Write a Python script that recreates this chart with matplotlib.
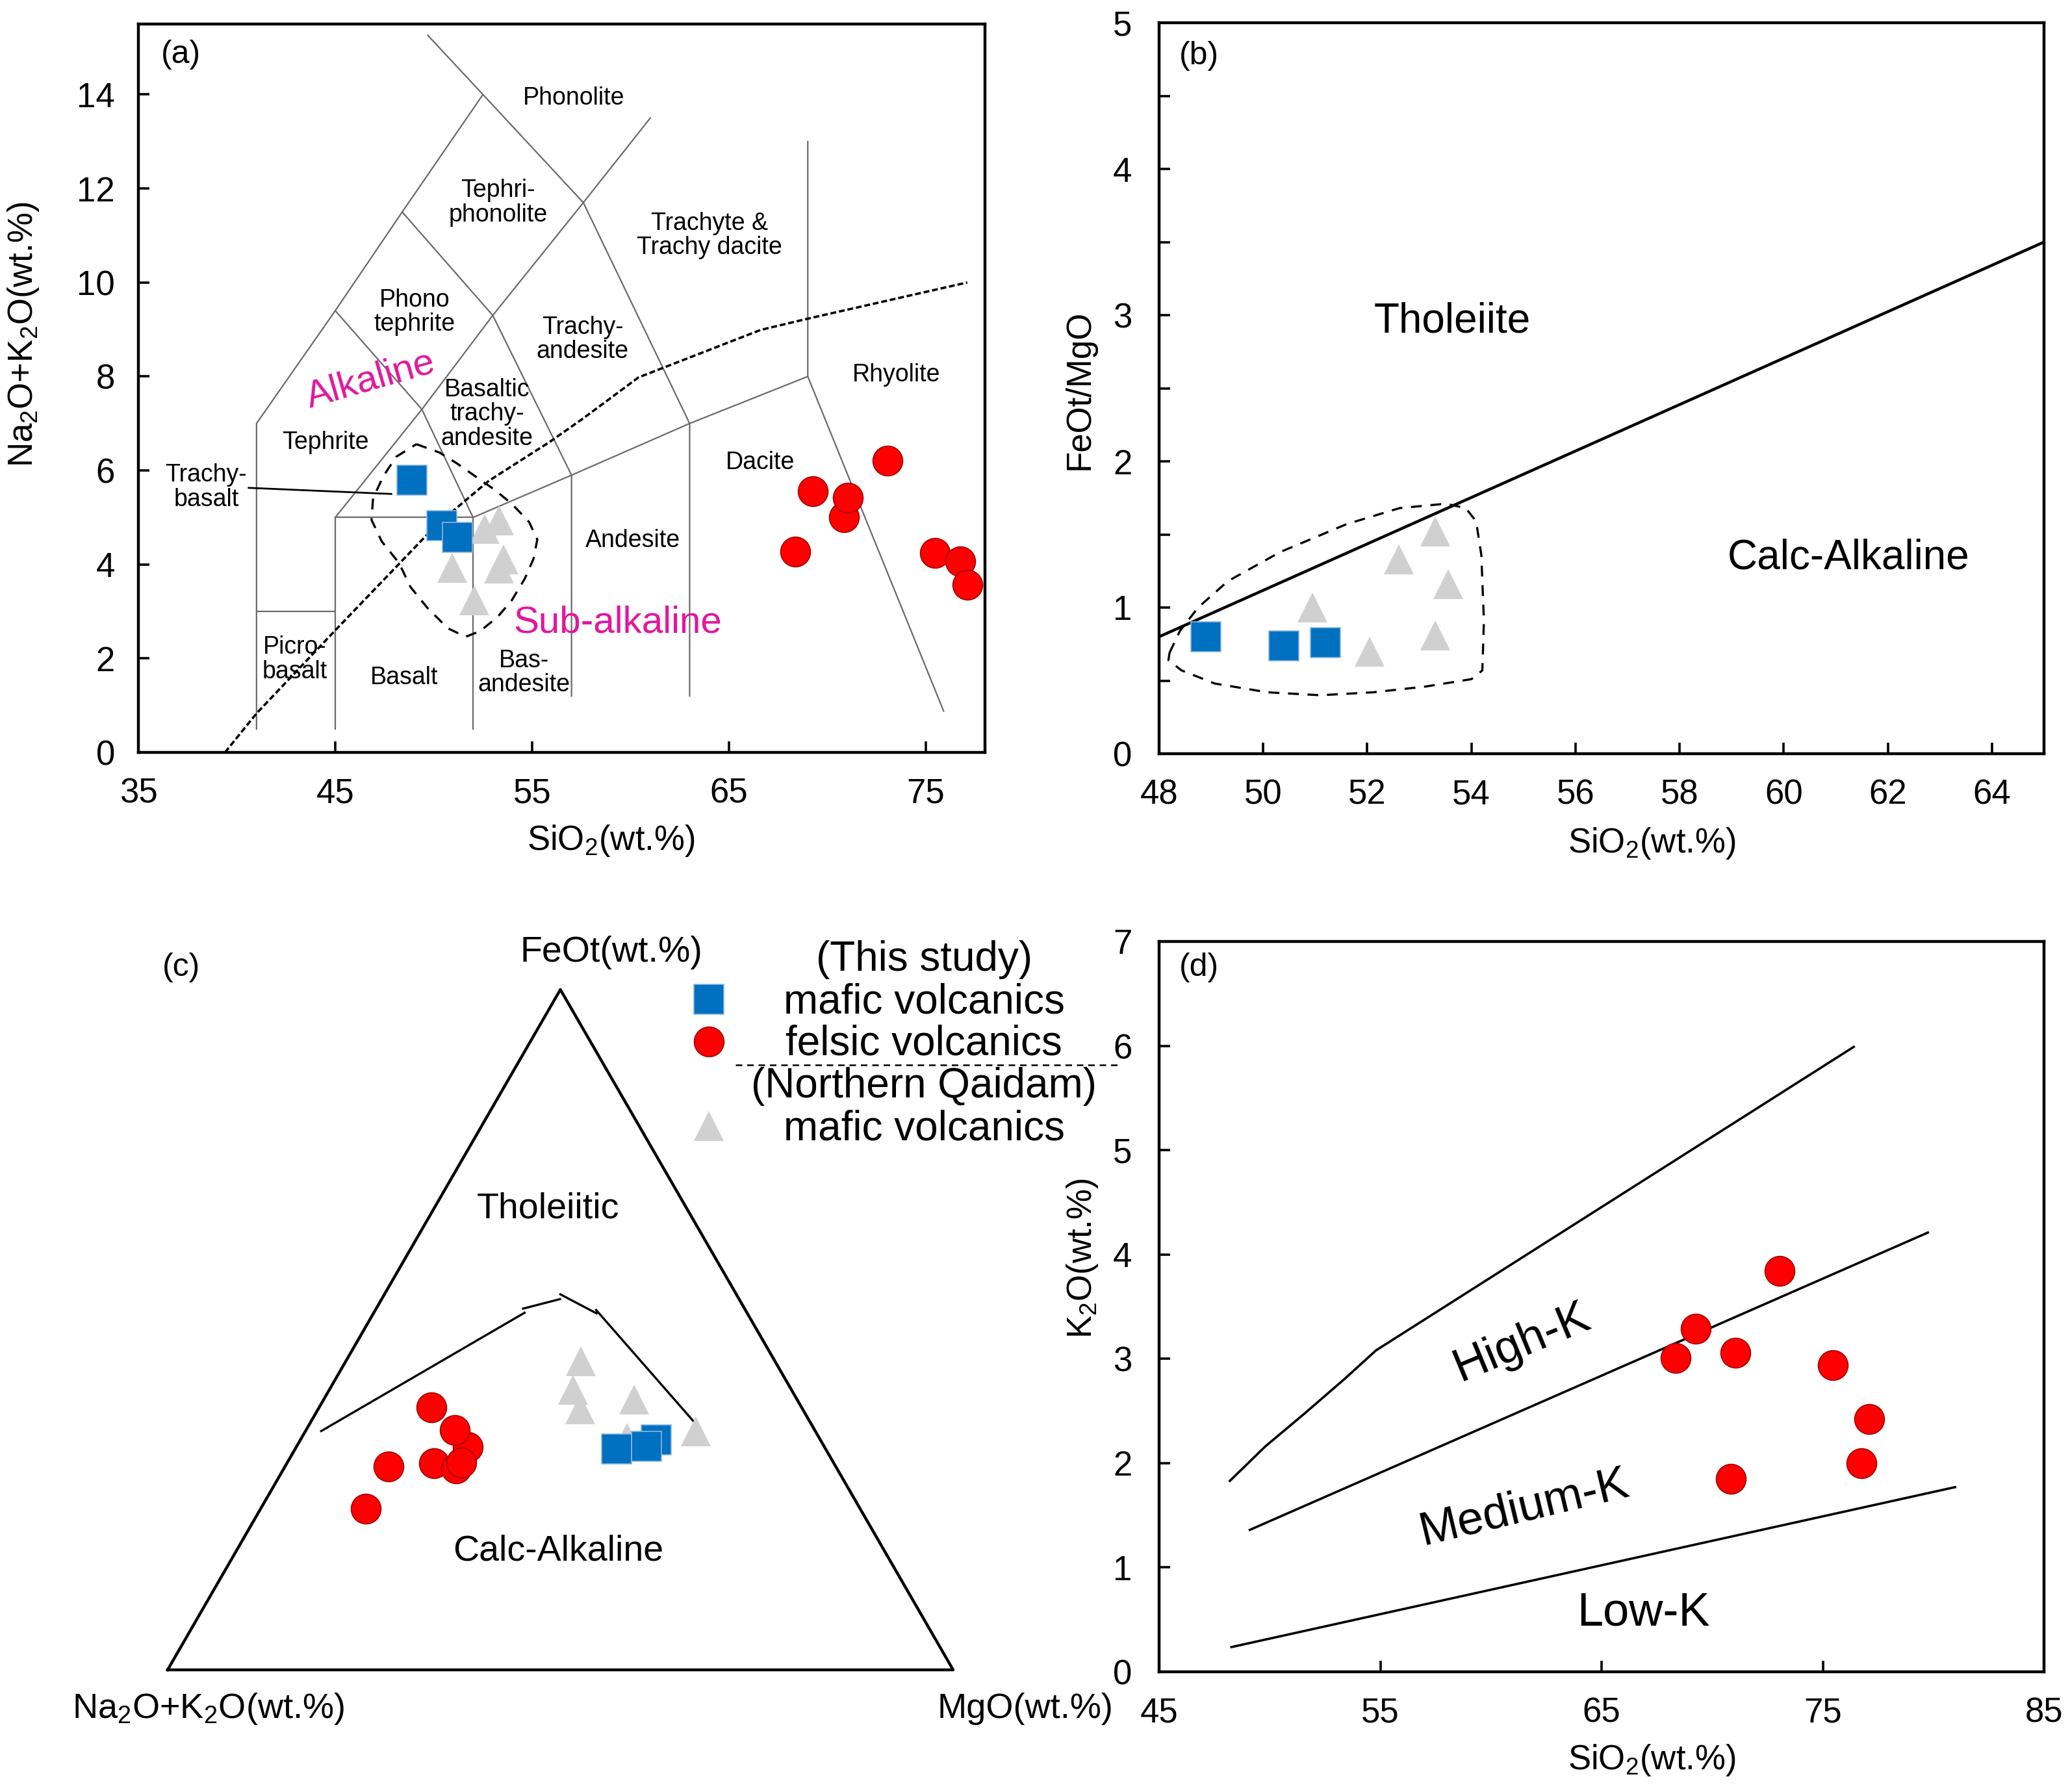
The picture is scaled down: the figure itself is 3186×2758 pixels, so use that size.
import numpy as np
import matplotlib
matplotlib.use("Agg")
from matplotlib import pyplot as plt
from matplotlib.ticker import MultipleLocator

plt.rcParams["font.family"] = ["Liberation Sans", "DejaVu Sans"]
plt.rcParams["mathtext.fontset"] = "custom"
plt.rcParams["mathtext.rm"] = "Liberation Sans"
plt.rcParams["mathtext.it"] = "Liberation Sans:italic"
plt.rcParams["mathtext.bf"] = "Liberation Sans:bold"

out_filename = "out.png"

# ---------------- data ----------------
# this study, mafic volcanics (blue squares)
maf_sio2 = [48.9, 50.4, 51.2]
maf_alk = [5.79, 4.83, 4.58]
maf_feo_mgo = [0.80, 0.74, 0.76]
maf_afm_a = [26.6, 22.6, 20.9]
maf_afm_f = [32.5, 32.9, 33.8]
maf_afm_m = [40.9, 44.5, 45.3]

# this study, felsic volcanics (red circles)
fel_sio2 = [68.35, 69.25, 70.85, 71.05, 73.05, 75.45, 76.75, 77.1]
fel_alk = [4.27, 5.56, 5.0, 5.42, 6.21, 4.24, 4.07, 3.57]
fel_k2o = [3.01, 3.29, 1.85, 3.06, 3.84, 2.94, 2.0, 2.42]
fel_afm_a = [47.1, 45.4, 45.8, 50.9, 48.5, 47.4, 56.9, 62.9]
fel_afm_f = [38.6, 32.8, 35.2, 30.4, 29.6, 30.5, 29.9, 23.7]
fel_afm_m = [14.3, 21.8, 19.0, 18.7, 21.9, 22.1, 13.2, 13.4]

# Northern Qaidam mafic volcanics (grey triangles)
nq_sio2 = [50.95, 52.05, 52.6, 53.3, 53.3, 53.55]
nq_alk = [3.93, 3.24, 4.76, 4.94, 3.91, 4.10]
nq_feo_mgo = [1.00, 0.70, 1.33, 1.52, 0.81, 1.16]
nq_afm_a = [24.7, 27.8, 28.3, 20.8, 24.5, 15.2]
nq_afm_f = [45.4, 41.2, 38.3, 39.7, 34.1, 35.1]
nq_afm_m = [29.9, 31.0, 33.4, 39.5, 41.4, 49.7]

# TAS field boundaries
tas_lines = [
    [(41, 0.5), (41, 7), (45, 9.4), (48.4, 11.5), (52.5, 14), (49.7, 15.26)],
    [(41, 3), (45, 3)],
    [(45, 0.5), (45, 5), (52, 5), (52, 0.5)],
    [(45, 5), (49.4, 7.3), (53, 9.3), (57.6, 11.7), (61, 13.5)],
    [(45, 9.4), (49.4, 7.3), (52, 5), (57, 5.9), (63, 7), (69, 8)],
    [(48.4, 11.5), (53, 9.3), (57, 5.9), (57, 1.2)],
    [(52.5, 14), (57.6, 11.7), (63, 7), (63, 1.2)],
    [(69, 13), (69, 8), (75.9, 0.88)],
]
trachy_leader = [(40.6, 5.63), (47.85, 5.5)]
alk_x = [39.4, 41.0, 45.05, 49.7, 50.9, 52.8, 55.9, 57.6, 60.4, 66.6, 69.0, 77.1]
alk_y = [0.0, 0.83, 2.62, 4.65, 5.11, 5.78, 6.61, 7.11, 7.98, 8.99, 9.23, 10.0]
env_a_x = [49.12, 50.30, 51.18, 52.2, 53.09, 53.97, 54.85, 55.26, 55.07, 54.63,
           53.97, 53.24, 52.35, 51.62, 50.73, 49.71, 48.82, 48.24, 47.36, 46.84,
           46.92, 47.43, 48.09, 49.12]
env_a_y = [6.56, 6.38, 6.15, 5.85, 5.59, 5.29, 4.90, 4.53, 4.12, 3.70,
           3.24, 2.88, 2.58, 2.46, 2.64, 3.06, 3.52, 4.03, 4.49, 4.95,
           5.41, 5.87, 6.29, 6.56]

tas_labels = [
    ("Phonolite", 57.1, 13.92),
    ("Tephri-\nphonolite", 53.26, 11.7),
    ("Trachyte &\nTrachy dacite", 64.0, 11.0),
    ("Phono\ntephrite", 49.03, 9.37),
    ("Trachy-\nandesite", 57.56, 8.79),
    ("Basaltic\ntrachy-\nandesite", 52.7, 7.2),
    ("Rhyolite", 73.5, 8.04),
    ("Tephrite", 44.5, 6.6),
    ("Dacite", 66.6, 6.16),
    ("Trachy-\nbasalt", 38.44, 5.64),
    ("Andesite", 60.1, 4.51),
    ("Picro-\nbasalt", 42.93, 1.98),
    ("Basalt", 48.5, 1.59),
    ("Bas-\nandesite", 54.57, 1.69),
]

# FeOt/MgO vs SiO2
tc_x = [48, 65]
tc_y = [0.8, 3.5]
env_b_x = [48.2, 48.4, 48.75, 49.32, 50.33, 51.6, 52.62, 53.51, 53.89, 54.09, 54.19,
           54.24, 54.21, 54.0, 53.13, 52.11, 51.1, 50.08, 49.07, 48.43, 48.18, 48.2]
env_b_y = [0.69, 0.84, 1.0, 1.18, 1.38, 1.57, 1.68, 1.71, 1.68, 1.59, 1.36,
           0.91, 0.57, 0.51, 0.46, 0.42, 0.40, 0.42, 0.48, 0.57, 0.64, 0.69]

# AFM boundary (A, F, M) segments
afm_bound = [
    [(62.9, 35.1, 2.0), (28.3, 52.5, 19.2)],
    [(28.2, 53.1, 18.7), (22.8, 54.5, 22.7)],
    [(22.4, 55.2, 22.4), (19.2, 52.4, 28.4)],
    [(19.0, 52.9, 28.1), (14.8, 36.6, 48.6)],
]

# K2O vs SiO2 series boundaries
hk_x = [48.2, 49.8, 51.6, 53.4, 54.8, 76.4]
hk_y = [1.83, 2.16, 2.48, 2.81, 3.08, 5.99]
mk_x = [49.1, 79.75]
mk_y = [1.36, 4.21]
lk_x = [48.27, 80.98]
lk_y = [0.237, 1.77]

# ---------------- styles ----------------
SQ = dict(marker="s", linestyle="", markersize=16.5, markerfacecolor="#0070C0",
          markeredgecolor="#8DB8E0", markeredgewidth=0.6)
CI = dict(marker="o", linestyle="", markersize=16.5, markerfacecolor="#FF0000",
          markeredgecolor="#A00000", markeredgewidth=0.6)
TR = dict(marker="^", linestyle="", markersize=16.5, markerfacecolor="#D0D0D0",
          markeredgewidth=0)
MAGENTA = "#E0189C"
W, H = 3186, 2758


def px_axes(fig, left, top, right, bottom):
    return fig.add_axes([left / W, 1 - bottom / H, (right - left) / W, (bottom - top) / H])


def style_axes(ax, xpad=15, ypad=15):
    for sp in ax.spines.values():
        sp.set_linewidth(1.6)
    ax.tick_params(which="both", direction="in", width=1.3, labelsize=19)
    ax.tick_params(which="major", length=6)
    ax.tick_params(which="minor", length=6)
    ax.tick_params(axis="x", pad=xpad)
    ax.tick_params(axis="y", pad=ypad)


def ternary(a, f, m):
    a, f, m = np.asarray(a, float), np.asarray(f, float), np.asarray(m, float)
    s = a + f + m
    f, m = f / s, m / s
    return m + f / 2, f * np.sqrt(3) / 2


def main():
    fig = plt.figure(figsize=(W / 200, H / 200), dpi=200)

    # ---------------- (a) TAS ----------------
    ax = px_axes(fig, 213, 37, 1516, 1158)
    for line in tas_lines:
        xs, ys = zip(*line)
        ax.plot(xs, ys, color="#6a6a6a", linewidth=0.8, zorder=1)
    xs, ys = zip(*trachy_leader)
    ax.plot(xs, ys, color="k", linewidth=1.0, zorder=1)
    ax.plot(alk_x, alk_y, color="k", linewidth=1.3, linestyle=(0, (2.5, 1.2)), zorder=1)
    ax.plot(env_a_x, env_a_y, color="k", linewidth=1.2, linestyle=(0, (5, 4)), zorder=1)
    for label, x, y in tas_labels:
        ax.text(x, y, label, fontsize=13.5, ha="center", va="center", linespacing=1.05)
    ax.text(46.8, 7.92, "Alkaline", color=MAGENTA, fontsize=21, rotation=16,
            ha="center", va="center")
    ax.text(59.36, 2.76, "Sub-alkaline", color=MAGENTA, fontsize=21,
            ha="center", va="center")
    ax.plot(nq_sio2, nq_alk, zorder=3, **TR)
    ax.plot(maf_sio2, maf_alk, zorder=4, **SQ)
    ax.plot(fel_sio2, fel_alk, zorder=5, **CI)
    ax.set_xlim(35, 78)
    ax.set_ylim(0, 15.5)
    ax.set_xticks([35, 45, 55, 65, 75])
    ax.set_yticks(range(0, 15, 2))
    style_axes(ax, xpad=14, ypad=13)
    ax.text(0.05, 0.958, "(a)", transform=ax.transAxes, fontsize=18, ha="center", va="center")
    ax.text(0.558, -0.121, "SiO$_2$(wt.%)", transform=ax.transAxes, fontsize=19,
            ha="center", va="center")
    ax.text(-0.136, 0.574, "Na$_2$O+K$_2$O(wt.%)", transform=ax.transAxes, fontsize=19,
            ha="center", va="center", rotation=90)

    # ---------------- (b) FeOt/MgO ----------------
    ax = px_axes(fig, 1784, 35, 3146, 1160)
    ax.plot(tc_x, tc_y, color="k", linewidth=1.6, zorder=1)
    ax.plot(env_b_x, env_b_y, color="k", linewidth=1.2, linestyle=(0, (5, 4)), zorder=1)
    ax.plot(nq_sio2, nq_feo_mgo, zorder=3, **TR)
    ax.plot(maf_sio2, maf_feo_mgo, zorder=4, **SQ)
    ax.text(53.63, 2.96, "Tholeiite", fontsize=23, ha="center", va="center")
    ax.text(61.25, 1.34, "Calc-Alkaline", fontsize=23, ha="center", va="center")
    ax.set_xlim(48, 65)
    ax.set_ylim(0, 5)
    ax.set_xticks(range(48, 65, 2))
    ax.set_yticks(range(0, 6))
    ax.yaxis.set_minor_locator(MultipleLocator(0.5))
    style_axes(ax, xpad=14, ypad=15)
    ax.text(0.045, 0.955, "(b)", transform=ax.transAxes, fontsize=18, ha="center", va="center")
    ax.text(0.557, -0.123, "SiO$_2$(wt.%)", transform=ax.transAxes, fontsize=19,
            ha="center", va="center")
    ax.text(-0.0896, 0.498, "FeOt/MgO", transform=ax.transAxes, fontsize=19,
            ha="center", va="center", rotation=90)

    # ---------------- (c) AFM ----------------
    ax = px_axes(fig, 258, 1523, 1467, 2570)
    h = np.sqrt(3) / 2
    ax.set_xlim(0, 1)
    ax.set_ylim(0, h)
    ax.axis("off")
    ax.plot([0, 1, 0.5, 0], [0, 0, h, 0], color="k", linewidth=1.6, clip_on=False)
    for seg in afm_bound:
        a, f, m = zip(*seg)
        x, y = ternary(a, f, m)
        ax.plot(x, y, color="k", linewidth=1.2)
    x, y = ternary(nq_afm_a, nq_afm_f, nq_afm_m)
    ax.plot(x, y, zorder=3, clip_on=False, **TR)
    x, y = ternary(maf_afm_a, maf_afm_f, maf_afm_m)
    ax.plot(x[::-1], y[::-1], zorder=4, clip_on=False, **SQ)
    x, y = ternary(fel_afm_a, fel_afm_f, fel_afm_m)
    ax.plot(x, y, zorder=5, clip_on=False, **CI)
    ax.text(0.484, 0.587, "Tholeiitic", fontsize=20, ha="center", va="center")
    ax.text(0.4975, 0.151, "Calc-Alkaline", fontsize=20, ha="center", va="center")
    ax.text(0.565, 0.913, "FeOt(wt.%)", fontsize=20, ha="center", va="center")
    ax.text(0.052, -0.050, "Na$_2$O+K$_2$O(wt.%)", fontsize=19.5, ha="center", va="center")
    ax.text(1.092, -0.050, "MgO(wt.%)", fontsize=19.5, ha="center", va="center")
    ax.text(0.017, 0.894, "(c)", fontsize=18, ha="center", va="center")

    # legend
    ax.plot([0.689], [0.854], clip_on=False, **SQ)
    ax.plot([0.689], [0.800], clip_on=False, **CI)
    ax.plot([0.689], [0.692], clip_on=False, **TR)
    ax.plot([0.723, 1.215], [0.770, 0.770], color="k", linewidth=0.9,
            linestyle=(0, (4, 3)), clip_on=False)
    for label, y in [("(This study)", 0.904), ("mafic volcanics", 0.850),
                     ("felsic volcanics", 0.797), ("(Northern Qaidam)", 0.743),
                     ("mafic volcanics", 0.689)]:
        ax.text(0.963, y, label, fontsize=23, ha="center", va="center")

    # ---------------- (d) K2O vs SiO2 ----------------
    ax = px_axes(fig, 1784, 1449, 3146, 2573)
    ax.plot(hk_x, hk_y, color="k", linewidth=1.3)
    ax.plot(mk_x, mk_y, color="k", linewidth=1.3)
    ax.plot(lk_x, lk_y, color="k", linewidth=1.3)
    ax.plot(fel_sio2, fel_k2o, zorder=5, **CI)
    ax.text(61.4, 3.15, "High-K", fontsize=26, rotation=22.5, ha="center", va="center")
    ax.text(61.5, 1.57, "Medium-K", fontsize=26, rotation=13.5, ha="center", va="center")
    ax.text(66.9, 0.56, "Low-K", fontsize=26, ha="center", va="center")
    ax.set_xlim(45, 85)
    ax.set_ylim(0, 7)
    ax.set_xticks(range(45, 86, 10))
    ax.set_yticks(range(0, 8))
    style_axes(ax, xpad=14, ypad=15)
    ax.text(0.045, 0.964, "(d)", transform=ax.transAxes, fontsize=18, ha="center", va="center")
    ax.text(0.557, -0.121, "SiO$_2$(wt.%)", transform=ax.transAxes, fontsize=19,
            ha="center", va="center")
    ax.text(-0.0866, 0.566, "K$_2$O(wt.%)", transform=ax.transAxes, fontsize=19,
            ha="center", va="center", rotation=90)

    fig.savefig(out_filename, dpi=200)
    plt.close(fig)


if __name__ == "__main__":
    main()
